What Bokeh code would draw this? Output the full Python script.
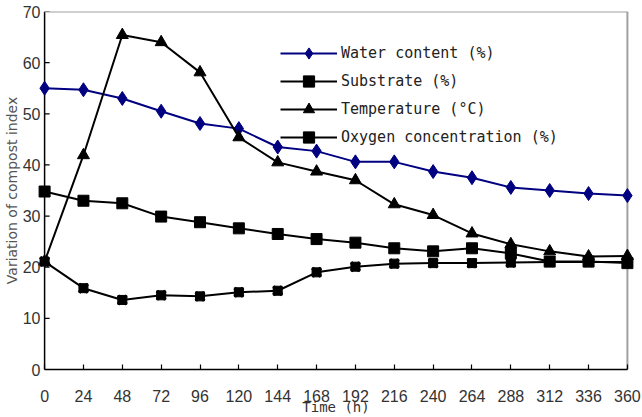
from bokeh.plotting import figure
from bokeh.models import Range1d, FixedTicker, Legend, LegendItem
from bokeh.embed import file_html
from bokeh.resources import INLINE

# Composting time (h)
time_h = [0, 24, 48, 72, 96, 120, 144, 168, 192, 216, 240, 264, 288, 312, 336, 360]

water_content = [55.0, 54.7, 53.0, 50.5, 48.1, 47.1, 43.5, 42.7,
                 40.6, 40.6, 38.7, 37.5, 35.6, 35.0, 34.4, 34.0]
substrate = [34.8, 33.0, 32.5, 29.9, 28.8, 27.6, 26.5, 25.5,
             24.8, 23.7, 23.1, 23.7, 22.7, 21.1, 21.1, 20.8]
temperature = [21.1, 41.9, 65.4, 64.0, 58.1, 45.4, 40.5, 38.7,
               37.0, 32.3, 30.2, 26.6, 24.5, 23.1, 22.1, 22.2]
oxygen = [21.1, 15.9, 13.6, 14.5, 14.3, 15.1, 15.4, 19.0,
          20.1, 20.7, 20.8, 20.8, 20.9, 21.0, 21.0, 21.0]

y_ticks = [0, 10, 20, 30, 40, 50, 60, 70]

TICK_FONT = "Liberation Sans"
MONO_FONT = "DejaVu Sans Mono"
NAVY = "#000080"
X_MIN, X_MAX = 0, 360
Y_MIN, Y_MAX = 0, 70
PAD = 5  # extra time units on each side so the end markers are drawn whole

p = figure(width=642, height=417, output_backend="svg", toolbar_location=None,
           x_range=Range1d(X_MIN - PAD, X_MAX + PAD), y_range=Range1d(Y_MIN, Y_MAX),
           min_border_left=36, min_border_right=7, min_border_top=11, min_border_bottom=47)

p.xgrid.visible = False
p.ygrid.visible = False
p.outline_line_color = None
p.background_fill_color = "white"

# time axis
xa = p.xaxis[0]
xa.ticker = FixedTicker(ticks=time_h)
xa.bounds = (X_MIN, X_MAX)
xa.axis_line_color = "black"
xa.axis_line_width = 1.5
xa.major_tick_line_color = "black"
xa.major_tick_line_width = 1.2
xa.major_tick_in = 5
xa.major_tick_out = 0
xa.minor_tick_line_color = None
xa.major_label_text_font = TICK_FONT
xa.major_label_text_font_size = "16px"
xa.major_label_text_color = "#333333"
xa.major_label_standoff = 20
xa.axis_label = "Time (h)"
xa.axis_label_text_font = MONO_FONT
xa.axis_label_text_font_style = "normal"
xa.axis_label_text_font_size = "14px"
xa.axis_label_text_color = "#333333"
xa.axis_label_standoff = -6

# value axis: labels and title from the axis, its line and ticks drawn at time 0
ya = p.yaxis[0]
ya.ticker = FixedTicker(ticks=y_ticks)
ya.axis_line_color = None
ya.major_tick_line_color = None
ya.major_tick_in = 0
ya.major_tick_out = 0
ya.minor_tick_line_color = None
ya.minor_tick_in = 0
ya.minor_tick_out = 0
ya.major_label_text_font = TICK_FONT
ya.major_label_text_font_size = "16px"
ya.major_label_text_color = "#333333"
ya.major_label_standoff = -4
ya.axis_label = "Variation of compost index"
ya.axis_label_text_font = "DejaVu Sans"
ya.axis_label_text_font_style = "normal"
ya.axis_label_text_font_size = "14px"
ya.axis_label_text_color = "#555555"
ya.axis_label_standoff = 0

tick_len = 3.1  # time units, about 5 px
p.segment(x0=[X_MIN], y0=[Y_MIN], x1=[X_MIN], y1=[Y_MAX], line_color="black", line_width=1.5)
p.segment(x0=[X_MIN] * len(y_ticks), y0=y_ticks, x1=[X_MIN + tick_len] * len(y_ticks), y1=y_ticks,
          line_color="black", line_width=1.2)

# grey frame on the top and right of the plotting area
p.segment(x0=[X_MIN, X_MAX], y0=[Y_MAX, Y_MIN], x1=[X_MAX, X_MAX], y1=[Y_MAX, Y_MAX],
          line_color="#a0a0a0", line_width=2)

# Water content: navy line with diamonds
wl = p.line(time_h, water_content, line_color=NAVY, line_width=2)
wm = p.scatter(time_h, water_content, marker="diamond", size=14,
               fill_color=NAVY, line_color=NAVY)

# Substrate: black line with squares
sl = p.line(time_h, substrate, line_color="black", line_width=2)
sm = p.scatter(time_h, substrate, marker="square", size=11,
               fill_color="black", line_color="black")

# Temperature: black line with triangles
tl = p.line(time_h, temperature, line_color="black", line_width=2)
tm = p.scatter(time_h, temperature, marker="triangle", size=12,
               fill_color="black", line_color="black")

# Oxygen concentration: black line with x-square markers
ol = p.line(time_h, oxygen, line_color="black", line_width=2)
om1 = p.scatter(time_h, oxygen, marker="x", size=12, line_color="black", line_width=3.5)
om2 = p.scatter(time_h, oxygen, marker="square", size=9,
                fill_color="black", line_color="black")

legend = Legend(items=[
    LegendItem(label="Water content (%)", renderers=[wl, wm]),
    LegendItem(label="Substrate (%)", renderers=[sl, sm]),
    LegendItem(label="Temperature (°C)", renderers=[tl, tm]),
    LegendItem(label="Oxygen concentration (%)", renderers=[ol, om1, om2]),
], location=(244, 218))
legend.border_line_color = None
legend.background_fill_alpha = 0
legend.padding = 0
legend.margin = 0
legend.spacing = 0
legend.glyph_width = 57
legend.glyph_height = 28
legend.label_height = 28
legend.label_standoff = 4
legend.label_text_font = MONO_FONT
legend.label_text_font_size = "15px"
legend.label_text_color = "#222222"
p.add_layout(legend)

open("out.html", "w").write(file_html(p, INLINE))
